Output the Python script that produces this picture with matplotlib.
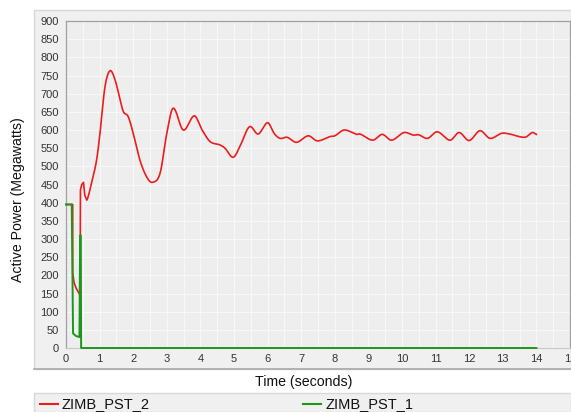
import matplotlib
matplotlib.use("Agg")
import matplotlib.pyplot as plt
from matplotlib.patches import Rectangle
from matplotlib.lines import Line2D
import numpy as np

plt.rcParams['font.family'] = ['Liberation Sans', 'DejaVu Sans']

# ---- data ----
t_pst2 = [0.0, 0.2, 0.2, 0.24, 0.3, 0.36, 0.42, 0.43, 0.47, 0.52, 0.56, 0.62, 0.75, 0.91, 1.01, 1.16, 1.31,
          1.46, 1.61, 1.71, 1.85, 2.0, 2.2, 2.4, 2.57, 2.8, 3.0, 3.19, 3.49, 3.82, 4.05, 4.29, 4.58,
          4.73, 4.98, 5.2, 5.46, 5.72, 6.0, 6.2, 6.37, 6.58, 6.86, 7.21, 7.48, 7.86, 8.0, 8.28, 8.65,
          8.75, 9.13, 9.41, 9.69, 10.06, 10.34, 10.49, 10.76, 11.05, 11.43, 11.7, 12.0, 12.32,
          12.62, 12.97, 13.2, 13.66, 13.88, 14.0]
p_pst2 = [395, 395, 206, 180, 165, 155, 145, 435, 450, 456, 420, 407, 450, 517, 590, 719, 763,
          738, 683, 650, 637, 591, 517, 471, 456, 481, 591, 660, 600, 639, 600, 568, 559,
          550, 525, 560, 609, 589, 620, 590, 577, 580, 566, 584, 570, 582, 584, 600, 588,
          589, 572, 588, 572, 593, 586, 587, 577, 595, 572, 593, 571, 598,
          577, 591, 589, 580, 593, 588]

t_pst1 = [0.0, 0.17, 0.21, 0.3, 0.4, 0.42, 0.44, 0.45, 14.0]
p_pst1 = [395, 395, 40, 33, 30, 310, 310, 0, 0]

x_ticks = list(range(0, 16))
y_ticks = list(range(0, 901, 50))

# ---- figure ----
fig = plt.figure(figsize=(5.71, 4.12), dpi=100)
fig.patch.set_facecolor("white")

# outer panel
fig.add_artist(Rectangle((34 / 571, (412 - 369) / 412), (571 - 34) / 571, (369 - 10) / 412,
                         transform=fig.transFigure, facecolor="#f0f0f0",
                         edgecolor="#d8d8d8", linewidth=1.0, zorder=-10))
fig.add_artist(Line2D([34 / 571, 1.0], [(412 - 369) / 412] * 2, transform=fig.transFigure,
                      color="#a8a8a8", linewidth=1.2, zorder=-9))
# legend strip
fig.add_artist(Rectangle((34 / 571, 0), (571 - 34) / 571, (412 - 393) / 412,
                         transform=fig.transFigure, facecolor="#f0f0f0",
                         edgecolor="#d8d8d8", linewidth=1.0, zorder=-10))

ax = fig.add_axes([66 / 571, (412 - 348) / 412, 504 / 571, 327 / 412])
ax.set_zorder(1)
ax.set_facecolor("#eeeeee")


def smooth(t, p, start=11, n=2000):
    t = np.asarray(t, float)
    p = np.asarray(p, float)
    ts, ps = t[start:], p[start:]
    tt = np.linspace(ts[0], ts[-1], n)
    out = []
    for i in range(len(ts) - 1):
        p0 = ps[i - 1] if i > 0 else ps[i]
        p1, p2 = ps[i], ps[i + 1]
        p3 = ps[i + 2] if i + 2 < len(ps) else ps[i + 1]
        t0 = ts[i - 1] if i > 0 else ts[i] - (ts[i + 1] - ts[i])
        t1, t2 = ts[i], ts[i + 1]
        t3 = ts[i + 2] if i + 2 < len(ts) else ts[i + 1] + (ts[i + 1] - ts[i])
        m1 = (p2 - p0) / (t2 - t0) * (t2 - t1)
        m2 = (p3 - p1) / (t3 - t1) * (t2 - t1)
        mask = (tt >= t1) & (tt < t2) if i < len(ts) - 2 else (tt >= t1) & (tt <= t2)
        s = (tt[mask] - t1) / (t2 - t1)
        h00 = 2 * s**3 - 3 * s**2 + 1
        h10 = s**3 - 2 * s**2 + s
        h01 = -2 * s**3 + 3 * s**2
        h11 = s**3 - s**2
        out.append((tt[mask], h00 * p1 + h10 * m1 + h01 * p2 + h11 * m2))
    tx = np.concatenate([t[:start]] + [o[0] for o in out])
    px = np.concatenate([p[:start]] + [o[1] for o in out])
    return tx, px


tr, pr = smooth(t_pst2, p_pst2)
ax.plot(tr, pr, color="#ee1c1c", linewidth=1.2, zorder=3, clip_on=False)
ax.plot(t_pst1, p_pst1, color="#1e961e", linewidth=1.4, zorder=4, clip_on=False)

ax.set_xlim(0, 15)
ax.set_ylim(0, 900)
ax.set_xticks(x_ticks)
ax.set_yticks(y_ticks)
ax.set_xticks(np.arange(0.5, 15, 1.0), minor=True)
ax.grid(True, which="both", color="#f8f8f8", linewidth=0.8, zorder=0)
ax.set_axisbelow(True)
ax.tick_params(axis="both", which="both", length=0, labelsize=8, colors="#333333", pad=5)
ax.tick_params(axis="x", pad=4)

for side in ["left", "top", "right"]:
    ax.spines[side].set_color("#a0a0a0")
    ax.spines[side].set_linewidth(0.9)
ax.spines["bottom"].set_color("#c8c8c8")

fig.text(18 / 571, 1 - 200 / 412, "Active Power (Megawatts)", rotation=90,
         ha="center", va="center", fontsize=10.2, color="#111111")
fig.text(304 / 571, 1 - 382 / 412, "Time (seconds)", ha="center", va="center",
         fontsize=10.2, color="#111111")

# legend entries
ly = 1 - 404 / 412
fig.add_artist(Line2D([40 / 571, 58 / 571], [ly, ly], transform=fig.transFigure,
                      color="#ee1c1c", linewidth=1.5))
fig.text(62 / 571, ly, "ZIMB_PST_2", ha="left", va="center", fontsize=10.5, color="#111111")
fig.add_artist(Line2D([303 / 571, 321 / 571], [ly, ly], transform=fig.transFigure,
                      color="#1e961e", linewidth=1.5))
fig.text(326 / 571, ly, "ZIMB_PST_1", ha="left", va="center", fontsize=10.5, color="#111111")

fig.savefig("out.png", dpi=100)
